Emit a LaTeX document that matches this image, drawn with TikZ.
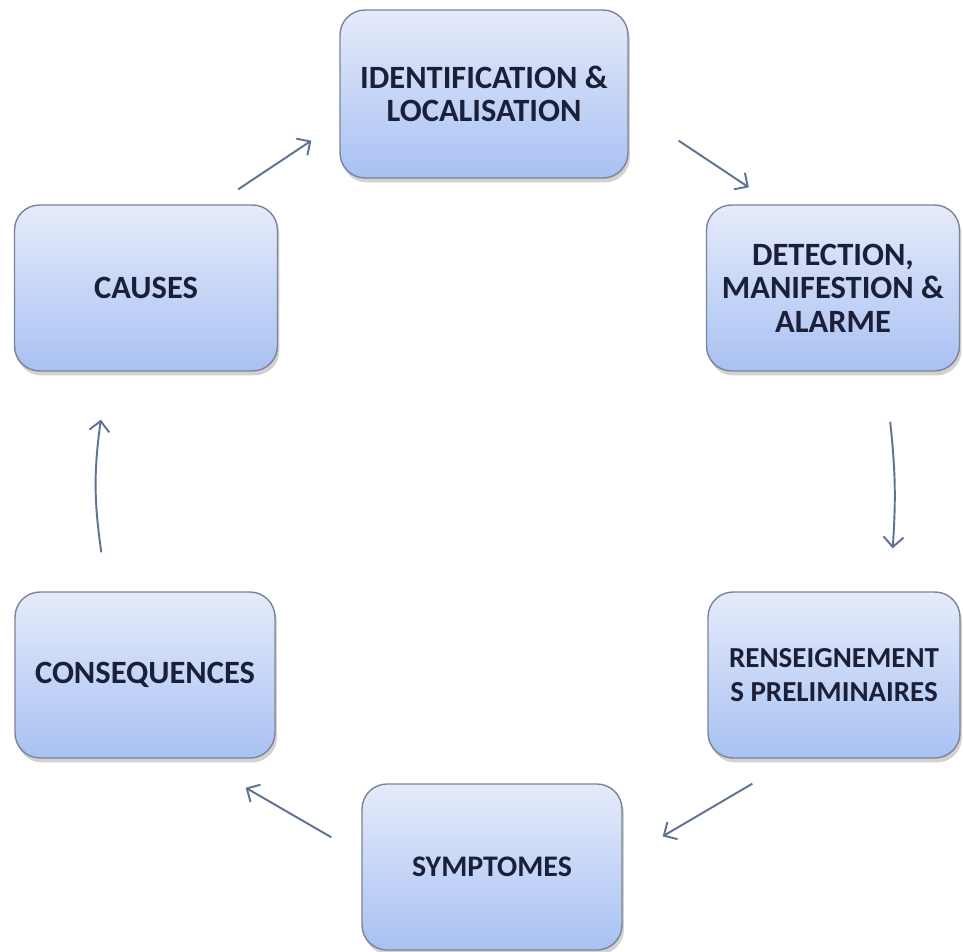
\documentclass[tikz,border=0pt]{standalone}
\usepackage{fontspec}
\setmainfont{Carlito}
\usetikzlibrary{shadows,arrows.meta}
\definecolor{boxtop}{HTML}{E6EBFA}
\definecolor{boxbot}{HTML}{A8C1F3}
\definecolor{boxline}{HTML}{7A8496}
\definecolor{boxtext}{HTML}{1B2038}
\definecolor{arrowc}{HTML}{5E7393}

\begin{document}
\begin{tikzpicture}
  [x=0.02cm,y=-0.02cm,
    b/.style={draw=boxline,line width=0.8pt,rounded corners=0.5cm,
      top color=boxtop,bottom color=boxbot,
      minimum width=5.2cm,minimum height=3.32cm,
      align=center,text=boxtext,
      font=\bfseries\fontsize{18.5}{19}\selectfont,
      drop shadow={opacity=0.35,shadow xshift=0.04cm,shadow yshift=-0.09cm}},
    a/.style={draw=arrowc,line width=1.1pt,
      -{Straight Barb[length=2mm,width=4mm]}}]
  \path[use as bounding box,fill=white] (0,0) rectangle (963,952);
  % the six stages
  \node[b,minimum width=5.76cm,minimum height=3.36cm] (ident) at (484,94)
    {IDENTIFICATION \&\\LOCALISATION};
  \node[b,minimum width=5.06cm] (detect) at (833,288)
    {DETECTION,\\MANIFESTION \&\\ALARME};
  \node[b,minimum width=5.04cm,
    font=\bfseries\fontsize{16.5}{19}\selectfont] (rens) at (834,675)
    {RENSEIGNEMENT\\S PRELIMINAIRES};
  \node[b,font=\bfseries\fontsize{17}{19}\selectfont] (sympt) at (492,867)
    {SYMPTOMES};
  \node[b] (conseq) at (145,675) {CONSEQUENCES};
  \node[b,minimum width=5.26cm] (causes) at (146,288) {CAUSES};
  % the cycle
  \draw[a] ([shift={(-40,-15)}]causes.north east)
    -- ([shift={(-28,-38)}]ident.south west);
  \draw[a] ([shift={(50,-38)}]ident.south east)
    -- ([shift={(43,-17)}]detect.north west);
  \draw[a] ([shift={(-70,50)}]detect.south east)
    to[bend left=5] ([shift={(-68,-43)}]rens.north east);
  \draw[a] ([shift={(45,25)}]rens.south west)
    -- ([shift={(40,53)}]sympt.north east);
  \draw[a] ([shift={(-30,54)}]sympt.north west)
    -- ([shift={(-30,29)}]conseq.south east);
  \draw[a] ([shift={(87,-39)}]conseq.north west)
    to[bend left=8] ([shift={(87,48)}]causes.south west);
\end{tikzpicture}
\end{document}
